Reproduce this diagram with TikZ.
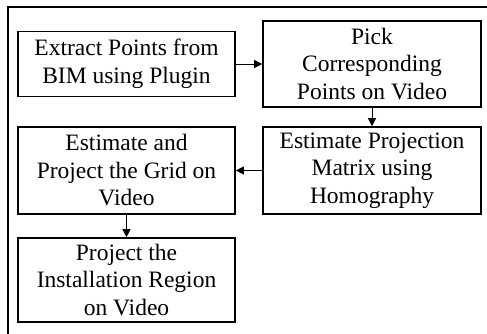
\documentclass[tikz,border=0pt]{standalone}
\usepackage{fontspec}
\setmainfont{Liberation Serif}
\usetikzlibrary{arrows.meta}
\begin{document}
\begin{tikzpicture}[x=1pt,y=-1pt,
  stepbox/.style={draw=black, line width=1.6pt, rectangle, align=center, inner sep=0pt,
    font=\fontsize{23.5}{27.5}\selectfont},
  conn/.style={line width=0.9pt, -{Triangle[length=8pt,width=8pt]}}]
\useasboundingbox (0,0) rectangle (487,333);
\draw[line width=1.4pt] (8,338) -- (8,7) -- (487,7);
\node[stepbox, minimum width=217pt, minimum height=65pt] (b1) at (126.5,64) {Extract Points from\\BIM using Plugin};
\node[stepbox, minimum width=218pt, minimum height=86pt] (b2) at (372,64) {Pick\\Corresponding\\Points on Video};
\node[stepbox, minimum width=218pt, minimum height=87pt] (b3) at (372,170.5) {Estimate Projection\\Matrix using\\Homography};
\node[stepbox, minimum width=217pt, minimum height=87pt] (b4) at (126.5,170.5) {Estimate and\\Project the Grid on\\Video};
\node[stepbox, minimum width=217pt, minimum height=84pt] (b5) at (126.5,280) {Project the\\Installation Region\\on Video};
\draw[conn] (b1) -- (b2);
\draw[conn] (b2) -- (b3);
\draw[conn] (b3) -- (b4);
\draw[conn] (b4) -- (b5);
\end{tikzpicture}
\end{document}
